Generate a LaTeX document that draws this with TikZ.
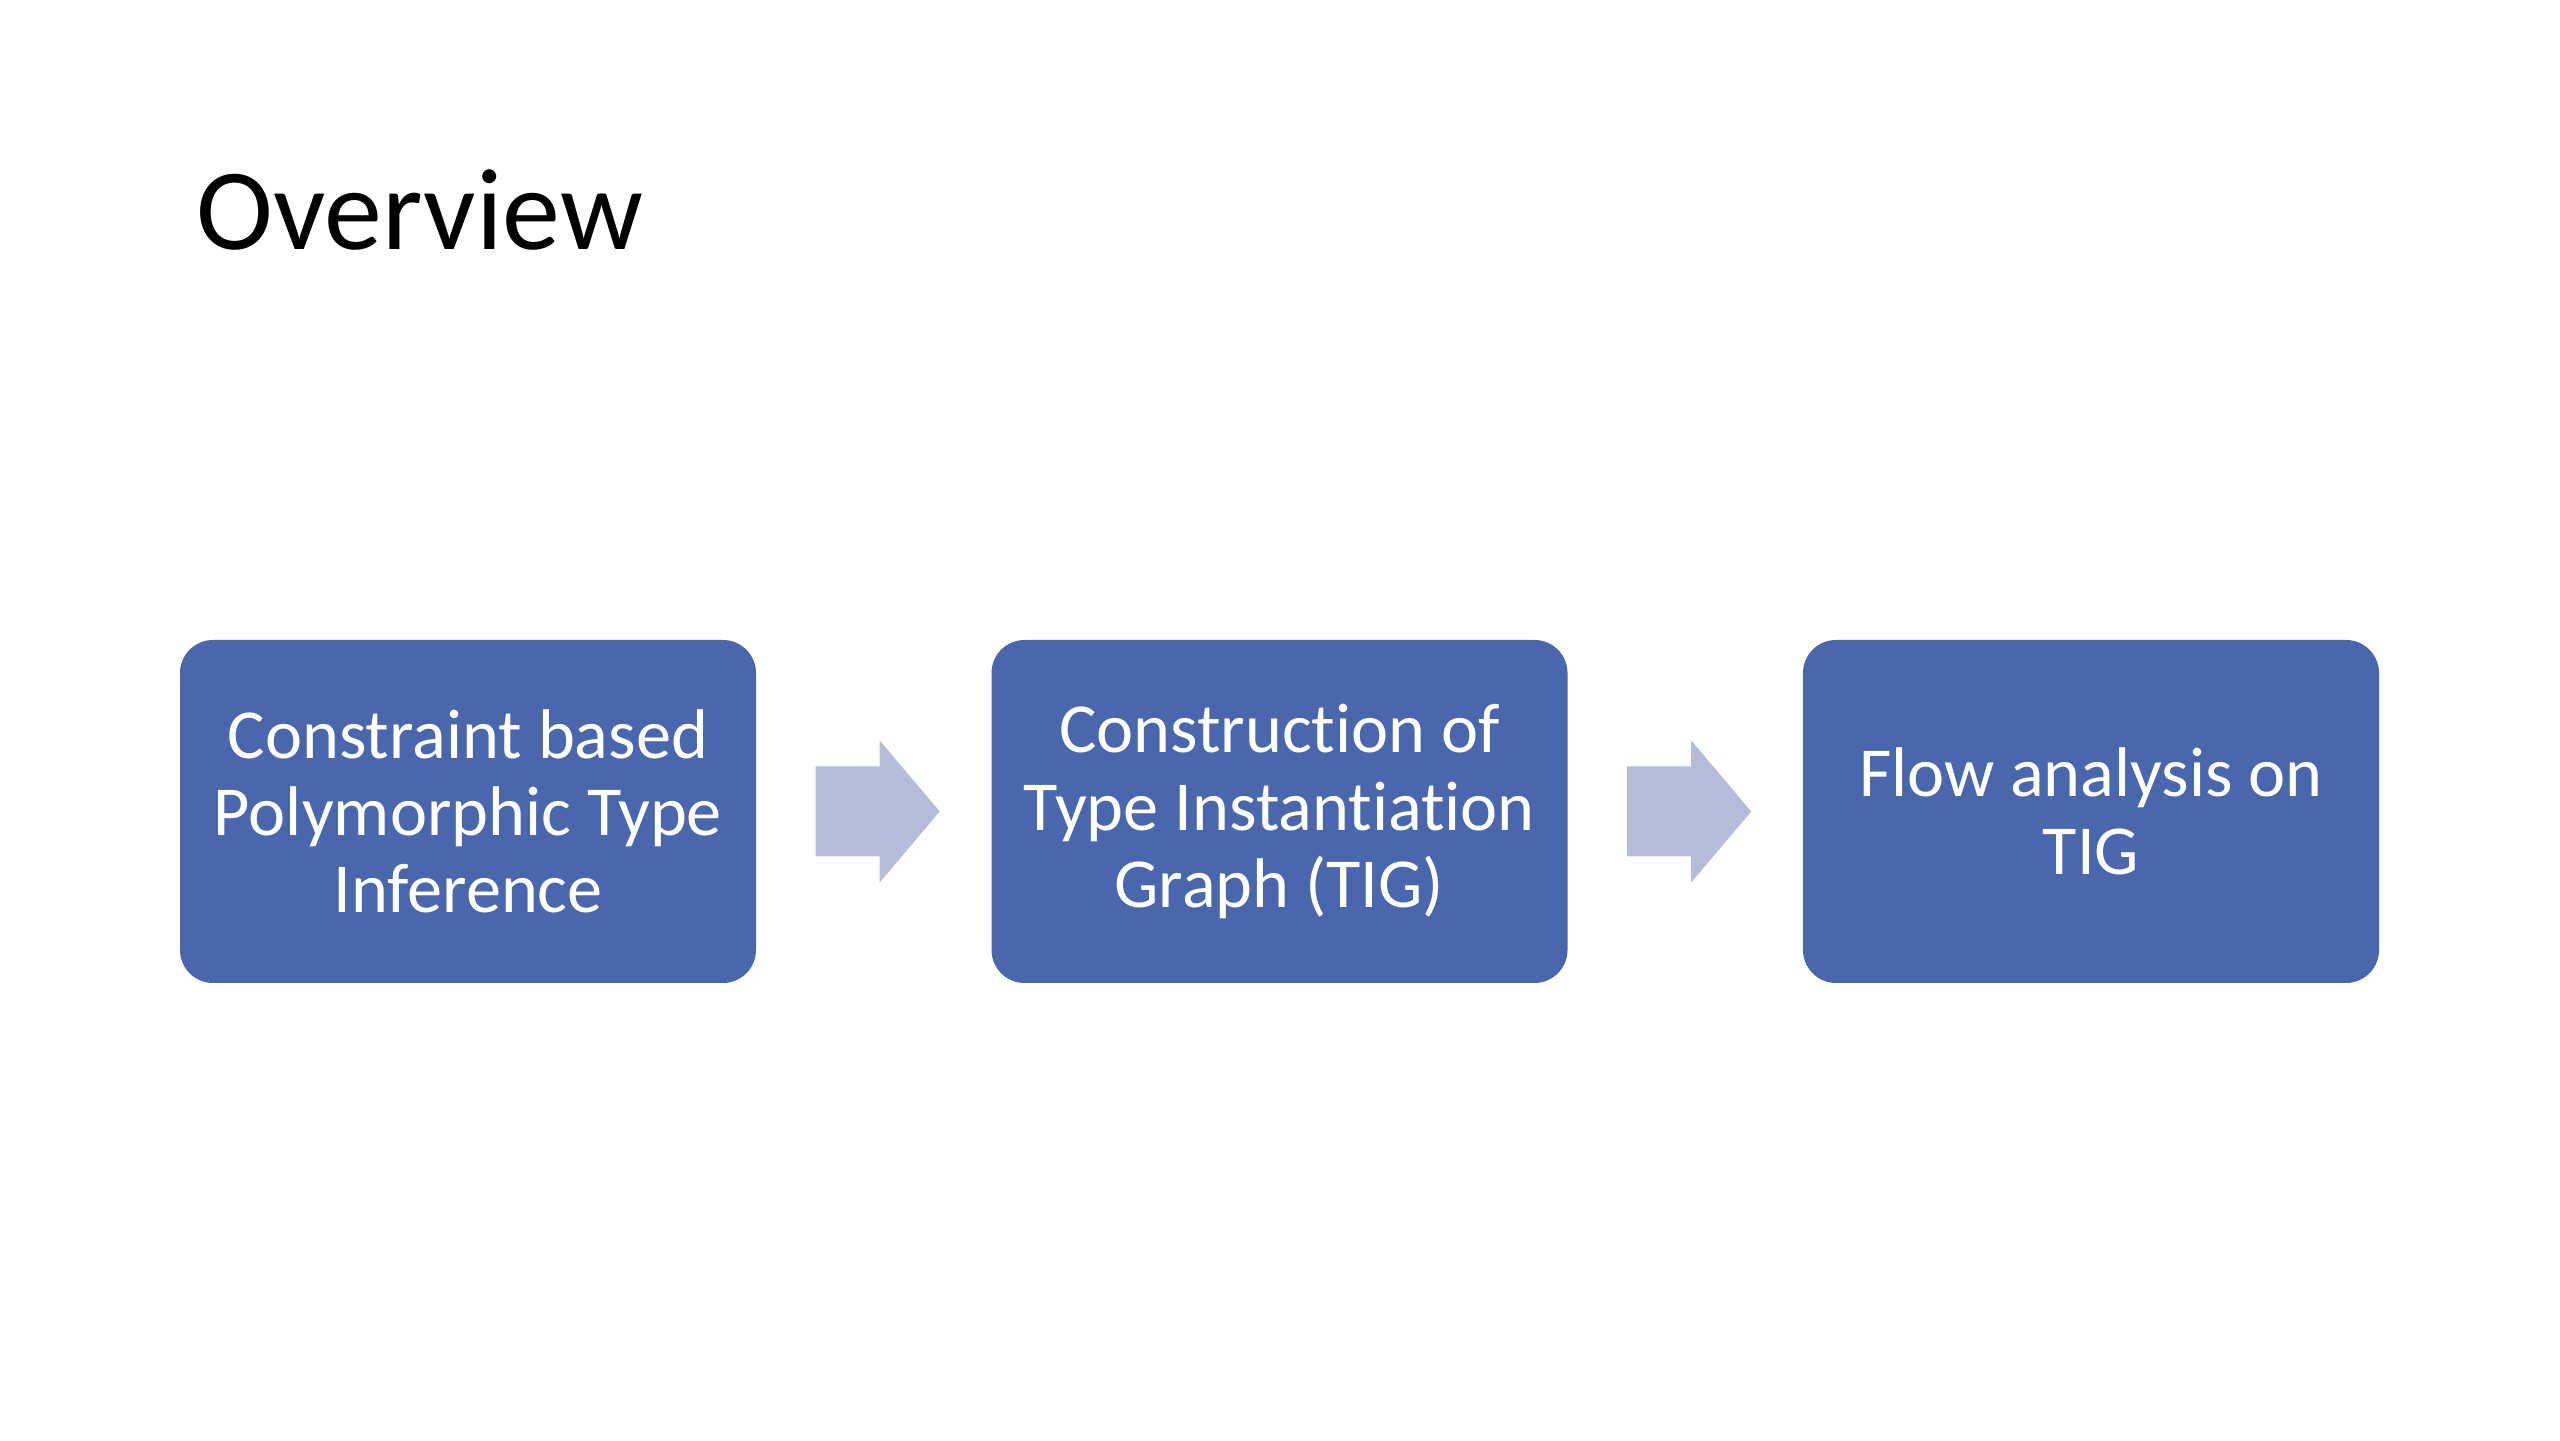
\documentclass[tikz,border=0pt]{standalone}
\usepackage{fontspec}
\setmainfont[Ligatures=NoCommon]{Carlito}
\definecolor{boxblue}{HTML}{4A66AC}
\definecolor{arrowblue}{HTML}{B4BCD9}
\tikzset{
	stagebox/.style={rectangle, rounded corners=0.33cm, fill=boxblue, text=white,
		minimum width=5.76cm, minimum height=3.43cm, align=center, inner sep=0pt,
		font=\fontsize{20}{22}\selectfont},
}
\begin{document}
\begin{tikzpicture}
	\useasboundingbox (0, 0) rectangle (25.6, 14.4);

	\node[anchor = base west, font=\fontsize{33}{40}\selectfont] (title) at (1.84, 11.90) {Overview};

	\begin{scope}[every node/.append style={stagebox}]
		\node (infer) at (4.68, 6.285) {Constraint based\\Polymorphic Type\\Inference};
		\node (tig) at (12.795, 6.285) {Construction of\\Type Instantiation\\Graph (TIG)};
		\node (flow) at (20.91, 6.285) {Flow analysis on\\TIG};
	\end{scope}

	\foreach \from in {infer, tig}
		\fill [arrowblue, shift={(\from.east)}] (0.59, 0.45) -- (1.23, 0.45) -- (1.23, 0.71) -- (1.83, 0)
			-- (1.23, -0.71) -- (1.23, -0.45) -- (0.59, -0.45) -- cycle;
\end{tikzpicture}
\end{document}
